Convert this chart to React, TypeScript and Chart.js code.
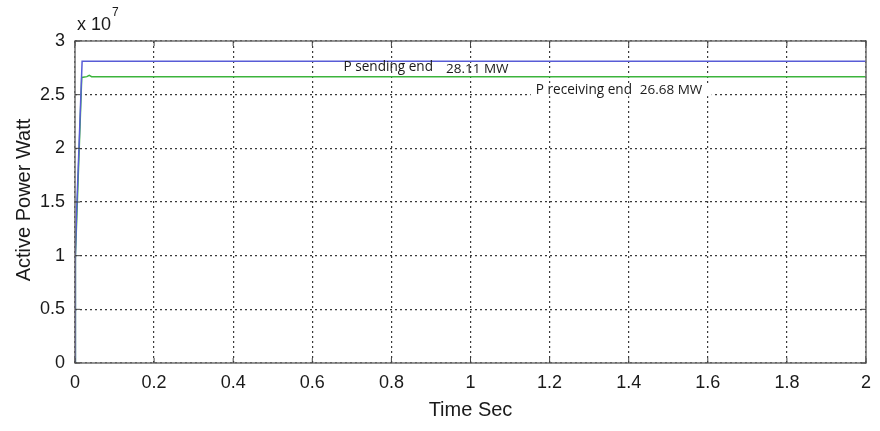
import React, { useEffect, useRef } from "react";
import { Chart, registerables } from "chart.js";

Chart.register(...registerables);

// Time (s)
const timeSend = [0, 0.001, 0.004, 0.018, 0.5, 1, 1.5, 2];
const pSend = [0, 10000000, 14000000, 28110000, 28110000, 28110000, 28110000, 28110000];

const timeRecv = [0, 0.001, 0.004, 0.017, 0.03, 0.036, 0.042, 0.5, 1, 1.5, 2];
const pRecv = [0, 10000000, 13000000, 26600000, 26680000, 26800000, 26680000, 26680000, 26680000, 26680000, 26680000];

const xTickLabels = ["0", "0.2", "0.4", "0.6", "0.8", "1", "1.2", "1.4", "1.6", "1.8", "2"];
const yTickLabels = ["0", "0.5", "1", "1.5", "2", "2.5", "3"];

const annotations = [
  { text: "P sending end", t: 0.679, v: 27560000, size: 13.6 },
  { text: "28.11 MW", t: 0.938, v: 27400000, size: 13.5 },
  { text: "P receiving end", t: 1.165, v: 25420000, size: 13.6, box: true },
  { text: "26.68 MW", t: 1.428, v: 25420000, size: 13.5 },
];

const TICK_FONT = "Liberation Sans, Arial, sans-serif";

const framePlugin = {
  id: "frameAndText",
  afterDraw(chart: any) {
    const { ctx, chartArea, scales } = chart;
    const { left, right, top, bottom } = chartArea;
    const xs = scales.x;
    const ys = scales.y;
    ctx.save();
    ctx.textBaseline = "middle";
    ctx.textAlign = "left";
    annotations.forEach((a, i) => {
      ctx.font = `${a.size}px "Open Sans", sans-serif`;
      const px = xs.getPixelForValue(a.t);
      const py = ys.getPixelForValue(a.v);
      if (a.box) {
        ctx.fillStyle = "#ffffff";
        const next = annotations[i + 1];
        const w2 = next ? xs.getPixelForValue(next.t) + ctx.measureText(next.text).width - px : ctx.measureText(a.text).width;
        ctx.fillRect(px - 5, py - 6, w2 + 14, 12);
      }
    });
    annotations.forEach((a) => {
      ctx.font = `${a.size}px "Open Sans", sans-serif`;
      ctx.fillStyle = "#1a1a1a";
      ctx.fillText(a.text, xs.getPixelForValue(a.t), ys.getPixelForValue(a.v));
    });
    // frame
    ctx.strokeStyle = "#6e6e6e";
    ctx.lineWidth = 1.5;
    ctx.strokeRect(left, top, right - left, bottom - top);
    // inner tick marks
    ctx.lineWidth = 1;
    ctx.strokeStyle = "#444444";
    xs.ticks.forEach((tk: any) => {
      const x = xs.getPixelForValue(tk.value);
      ctx.beginPath();
      ctx.moveTo(x, bottom);
      ctx.lineTo(x, bottom - 5);
      ctx.moveTo(x, top);
      ctx.lineTo(x, top + 5);
      ctx.stroke();
    });
    ys.ticks.forEach((tk: any) => {
      const y = ys.getPixelForValue(tk.value);
      ctx.beginPath();
      ctx.moveTo(left, y);
      ctx.lineTo(left + 5, y);
      ctx.moveTo(right, y);
      ctx.lineTo(right - 5, y);
      ctx.stroke();
    });
    // axis titles
    ctx.fillStyle = "#1a1a1a";
    ctx.font = `20px ${TICK_FONT}`;
    ctx.textAlign = "center";
    ctx.textBaseline = "middle";
    ctx.fillText("Time Sec", (left + right) / 2, 410);
    ctx.save();
    ctx.translate(24, 200);
    ctx.rotate(-Math.PI / 2);
    ctx.fillText("Active Power Watt", 0, 0);
    ctx.restore();
    // exponent
    ctx.textAlign = "left";
    ctx.font = `18px ${TICK_FONT}`;
    ctx.fillText("x 10", left + 2, 25);
    const w = ctx.measureText("x 10").width;
    ctx.font = `12px ${TICK_FONT}`;
    ctx.fillText("7", left + 3 + w, 13);
    ctx.restore();
  },
};

export default function App() {
  const ref = useRef<HTMLCanvasElement | null>(null);
  useEffect(() => {
    if (!ref.current) return;
    const chart = new Chart(ref.current, {
      type: "line",
      data: {
        datasets: [
          {
            label: "P sending end",
            data: timeSend.map((t, i) => ({ x: t, y: pSend[i] })),
            borderColor: "rgb(88,92,214)",
            borderWidth: 1.5,
            pointRadius: 0,
            tension: 0,
          },
          {
            label: "P receiving end",
            data: timeRecv.map((t, i) => ({ x: t, y: pRecv[i] })),
            borderColor: "rgb(60,180,60)",
            borderWidth: 1.5,
            pointRadius: 0,
            tension: 0,
          },
        ],
      },
      options: {
        animation: false,
        responsive: false,
        maintainAspectRatio: false,
        layout: { padding: { left: 0, top: 41, right: 10, bottom: 0 } },
        plugins: { legend: { display: false }, tooltip: { enabled: false } },
        scales: {
          x: {
            type: "linear",
            min: 0,
            max: 2,
            ticks: {
              stepSize: 0.2,
              padding: 9,
              color: "#1a1a1a",
              font: { size: 18, family: TICK_FONT },
              maxRotation: 0,
              autoSkip: false,
              callback: (_v: any, i: number) => xTickLabels[i],
            },
            grid: { color: "#3a3a3a", lineWidth: 1.2, drawTicks: false },
            border: { display: false, dash: [2, 3] },
            afterFit: (s: any) => {
              s.height = 431 - 363;
            },
          },
          y: {
            min: 0,
            max: 30000000,
            ticks: {
              stepSize: 5000000,
              padding: 10,
              color: "#1a1a1a",
              font: { size: 18, family: TICK_FONT },
              callback: (_v: any, i: number) => yTickLabels[i],
            },
            grid: { color: "#3a3a3a", lineWidth: 1.2, drawTicks: false },
            border: { display: false, dash: [2, 3] },
            afterFit: (s: any) => {
              s.width = 75;
            },
          },
        },
      },
      plugins: [framePlugin],
    } as any);
    return () => chart.destroy();
  }, []);
  return (
    <div style={{ position: "fixed", left: 0, top: 0, width: 880, height: 431, background: "#fff" }}>
      <canvas ref={ref} width={880} height={431} style={{ width: 880, height: 431 }} />
    </div>
  );
}
